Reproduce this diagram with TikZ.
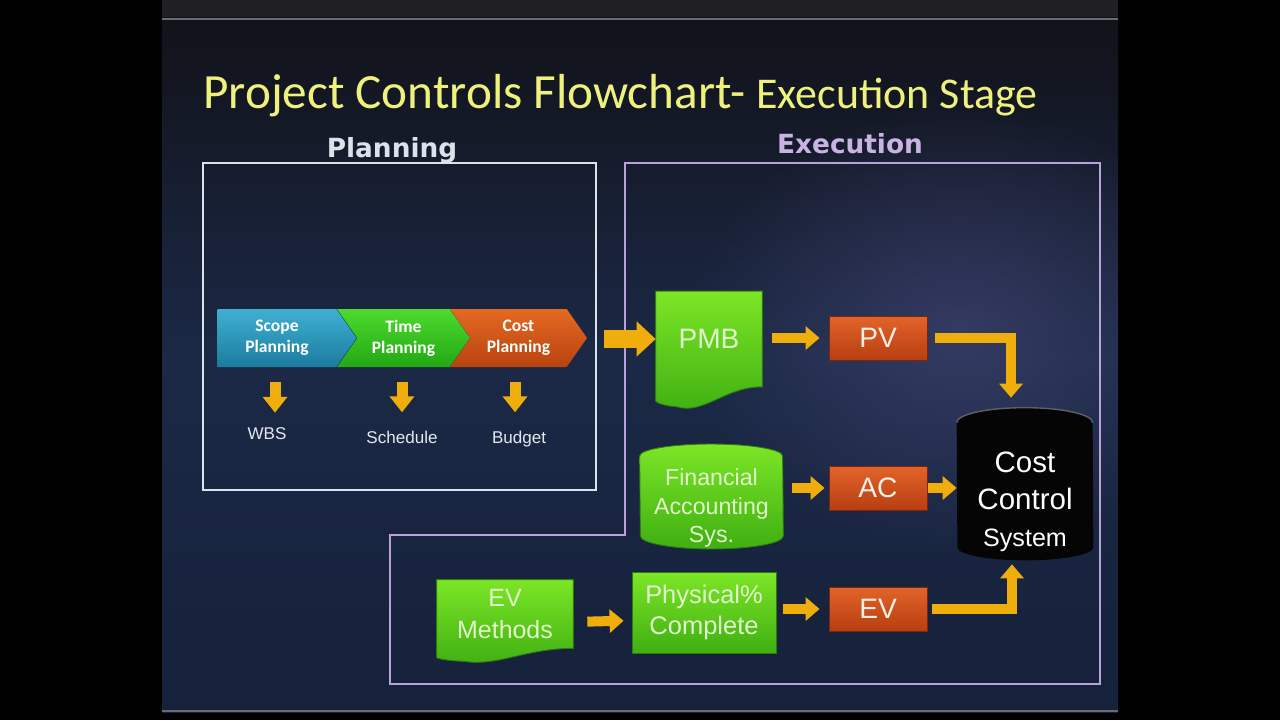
\documentclass[tikz,border=0pt]{standalone}
\usepackage{fontspec}
\setmainfont{Liberation Sans}
\newfontfamily\titlefont{Carlito}
\newfontfamily\headfont{DejaVu Sans}
\usetikzlibrary{arrows.meta, positioning, shapes.symbols, calc, fadings}
\definecolor{slideTop}{HTML}{111117}
\definecolor{slideMid}{HTML}{1B2946}
\definecolor{slideBot}{HTML}{16213A}
\definecolor{glowLav}{HTML}{4A4A7C}
\definecolor{topBand}{HTML}{202024}
\definecolor{bandLine}{HTML}{6A6A72}
\definecolor{titleYellow}{HTML}{EEF27C}
\definecolor{planLine}{HTML}{DCE2EA}
\definecolor{labelGrey}{HTML}{E4E7EE}
\definecolor{execLine}{HTML}{B9A2DA}
\definecolor{execText}{HTML}{C9B3E2}
\definecolor{goldArrow}{HTML}{F0AE0C}
\definecolor{greenTop}{HTML}{7CE626}
\definecolor{greenBot}{HTML}{3FAF12}
\definecolor{greenEdge}{HTML}{2E7A10}
\definecolor{greenText}{HTML}{E2F5CC}
\definecolor{orangeTop}{HTML}{E2642A}
\definecolor{orangeBot}{HTML}{B83E12}
\definecolor{orangeEdge}{HTML}{7A2808}
\definecolor{orangeText}{HTML}{FBF0E4}
\definecolor{tealTop}{HTML}{3FB0D2}
\definecolor{tealBot}{HTML}{1C7B9F}
\definecolor{limeTop}{HTML}{4EDA2E}
\definecolor{limeBot}{HTML}{22A814}
\definecolor{rustTop}{HTML}{E46A22}
\definecolor{rustBot}{HTML}{B9420F}
\definecolor{canBlack}{HTML}{050505}
\definecolor{rimGrey}{HTML}{5E6068}
\tikzfading[name=softglow, inner color=transparent!45, outer color=transparent!100]
\pgfdeclarelayer{slide}
\pgfdeclarelayer{fills}
\pgfsetlayers{slide,fills,main}
% green sheet with a wavy lower edge, drawn under node #1
\newcommand{\docfill}[2]{%
  \path[docshade] (#1.north west) -- (#1.north east) -- (#1.south east)
    .. controls ($(#1.south east)!0.35!(#1.south west)$) and ($(#1.south east)!0.55!(#1.south west)+(0,#2*1.4)$) .. ($(#1.south east)!0.8!(#1.south west)+(0,#2)$)
    .. controls ($(#1.south east)!0.92!(#1.south west)+(0,#2*0.95)$) and ($(#1.south west)+(0,#2*0.8)$) .. ($(#1.south west)+(0,#2*0.7)$) -- cycle;}

\begin{document}
\begin{tikzpicture}[x=0.02cm, y=-0.02cm,
    chev/.style={signal, signal pointer angle=110, minimum height=1.16cm, inner sep=0pt, align=center, text=white, font=\titlefont\bfseries\fontsize{10}{12}\selectfont},
    planlabel/.style={anchor=base, inner sep=0pt, text=labelGrey, font=\fontsize{9.7}{11}\selectfont},
    head/.style={anchor=base, inner sep=0pt, font=\headfont\bfseries\fontsize{15}{18}\selectfont},
    greenbox/.style={draw=greenEdge, line width=0.5pt, top color=greenTop, bottom color=greenBot, text=greenText, align=center, inner sep=0pt},
    docshade/.style={draw=greenEdge, line width=0.5pt, top color=greenTop, bottom color=greenBot},
    docbox/.style={inner sep=0pt, text=greenText, align=center},
    canbox/.style={inner sep=0pt, align=center},
    orangebox/.style={draw=orangeEdge, line width=0.5pt, top color=orangeTop, bottom color=orangeBot, text=orangeText, minimum width=1.96cm, minimum height=0.88cm, font=\fontsize{16}{19}\selectfont},
    flowarrow/.style={-{Triangle[width=0.46cm, length=0.28cm]}, line width=0.2cm, draw=goldArrow},
    droparrow/.style={-{Triangle[width=0.48cm, length=0.32cm]}, line width=0.22cm, draw=goldArrow},
    bigarrow/.style={-{Triangle[width=0.68cm, length=0.38cm]}, line width=0.36cm, draw=goldArrow},
    planframe/.style={draw=planLine, line width=1.6pt, inner sep=0pt},
    execframe/.style={draw=execLine, line width=1.6pt}
]
    \useasboundingbox (0,0) rectangle (1280,720);

    % slide
    \begin{pgfonlayer}{slide}
        \fill[black] (0,0) rectangle (1280,720);
        \shade[top color=slideTop, bottom color=slideBot, middle color=slideMid] (162,0) rectangle (1118,712);
        \begin{scope}
            \clip (162,0) rectangle (1118,712);
            \fill[glowLav, path fading=softglow] (960,330) ellipse [x radius=5.5cm, y radius=4.5cm];
        \end{scope}
        \fill[topBand] (162,0) rectangle (1118,17);
        \draw[bandLine, line width=1.2pt] (162,19) -- (1118,19);
        \draw[bandLine, line width=1pt] (162,711) -- (1118,711);
    \end{pgfonlayer}

    % headings
    \node[anchor=base west, inner sep=0pt, text=titleYellow, font=\titlefont] (title) at (203,108)
        {\fontsize{28}{32}\selectfont Project Controls Flowchart- \fontsize{25}{28}\selectfont Execution Stage};
    \node[head, text=planLine] (planhead) at (392,157) {Planning};
    \node[head, text=execText] (exechead) at (850,153) {Execution};

    % frames
    \node[planframe, minimum width=7.86cm, minimum height=6.54cm] (planbox) at (399.5,326.5) {};
    \draw[execframe] (625,163) -- (1100,163) -- (1100,684) -- (390,684) -- (390,535) -- (625,535) -- cycle;

    % planning
    \node[chev, signal to=east, top color=tealTop, bottom color=tealBot, minimum width=2.78cm, anchor=east] (scope) at (357,338) {Scope\\Planning};
    \node[chev, signal from=west, signal to=east, top color=limeTop, bottom color=limeBot, minimum width=2.66cm] (time) at (403.5,338) {Time\\Planning};
    \node[chev, signal from=west, signal to=east, top color=rustTop, bottom color=rustBot, minimum width=2.74cm] (costplan) at (518.5,338) {Cost\\Planning};
    \node[planlabel] (wbs) at (267,439) {WBS};
    \node[planlabel] (sched) at (402,443) {Schedule};
    \node[planlabel] (budget) at (519,443) {Budget};

    % execution
    \node[docbox, minimum width=2.12cm, minimum height=1.9cm, font=\fontsize{16}{19}\selectfont] (pmb) at (709,339) {PMB};
    \node[orangebox] (pv) at (878,338) {PV};
    \node[canbox, minimum width=2.86cm, minimum height=1.56cm, text=greenText, font=\fontsize{13.2}{16.4}\selectfont] (fa) at (711.5,508) {Financial\\Accounting\\Sys.};
    \node[orangebox] (ac) at (878,488) {AC};
    \node[canbox, minimum width=2.72cm, minimum height=2.48cm, text=white, font=\fontsize{16.8}{21}\selectfont] (cost) at (1025,502) {Cost\\Control\\{\fontsize{14.3}{20}\selectfont System}};
    \node[docbox, minimum width=2.72cm, minimum height=1.36cm, font=\fontsize{14.2}{18}\selectfont] (evm) at (505,614) {EV\\Methods};
    \node[greenbox, minimum width=2.88cm, minimum height=1.62cm, font=\fontsize{14.5}{18}\selectfont] (phys) at (704,612.5) {Physical\%\\Complete};
    \node[orangebox] (ev) at (878,609) {EV};

    \begin{pgfonlayer}{fills}
        \docfill{pmb}{20}
        \docfill{evm}{13}
        \path[docshade] ($(fa.north west)+(0,-12)$) arc[start angle=180, end angle=0, x radius=1.43cm, y radius=0.24cm]
            -- ($(fa.south east)+(0,-12)$) arc[start angle=0, end angle=-180, x radius=1.43cm, y radius=0.26cm] -- cycle;
        \fill[canBlack] ($(cost.north west)+(0,-17)$) arc[start angle=180, end angle=0, x radius=1.36cm, y radius=0.3cm]
            -- ($(cost.south east)+(0,-17)$) arc[start angle=0, end angle=-180, x radius=1.36cm, y radius=0.26cm] -- cycle;
        \draw[rimGrey, line width=0.8pt] ($(cost.north west)+(0,-17)$) arc[start angle=180, end angle=0, x radius=1.36cm, y radius=0.3cm];
    \end{pgfonlayer}

    % connectors
    \draw[droparrow, shorten <=0.3cm, shorten >=0.28cm] ([xshift=0.16cm]wbs.north |- scope.south) -- ([xshift=0.16cm]wbs.north);
    \draw[droparrow, shorten <=0.3cm, shorten >=0.36cm] (sched.north |- time.south) -- (sched.north);
    \draw[droparrow, shorten <=0.3cm, shorten >=0.36cm] ([xshift=-0.08cm]budget.north |- costplan.south) -- ([xshift=-0.08cm]budget.north);
    \draw[bigarrow, shorten <=0.14cm] (planbox.east |- pmb.west) -- (pmb.west);
    \draw[flowarrow, shorten <=0.2cm, shorten >=0.18cm] (pmb.east |- pv) -- (pv.west);
    \draw[flowarrow, shorten <=0.16cm, shorten >=0.84cm] (pv.east) -| ($(cost.north)+(-14,0)$);
    \draw[flowarrow, shorten <=0.18cm, shorten >=0.08cm] (fa.east |- ac) -- (ac.west);
    \draw[flowarrow, shorten <=0.02cm] (ac.east) -- (cost.west |- ac);
    \draw[flowarrow, shorten <=0.28cm, shorten >=0.16cm] ([yshift=-0.16cm]evm.east) -- ([yshift=-0.16cm]phys.west);
    \draw[flowarrow, shorten <=0.14cm, shorten >=0.18cm] (phys.east |- ev) -- (ev.west);
    \draw[flowarrow, shorten <=0.1cm] (ev.east) -| ($(cost.south)+(-13,0)$);
\end{tikzpicture}
\end{document}
